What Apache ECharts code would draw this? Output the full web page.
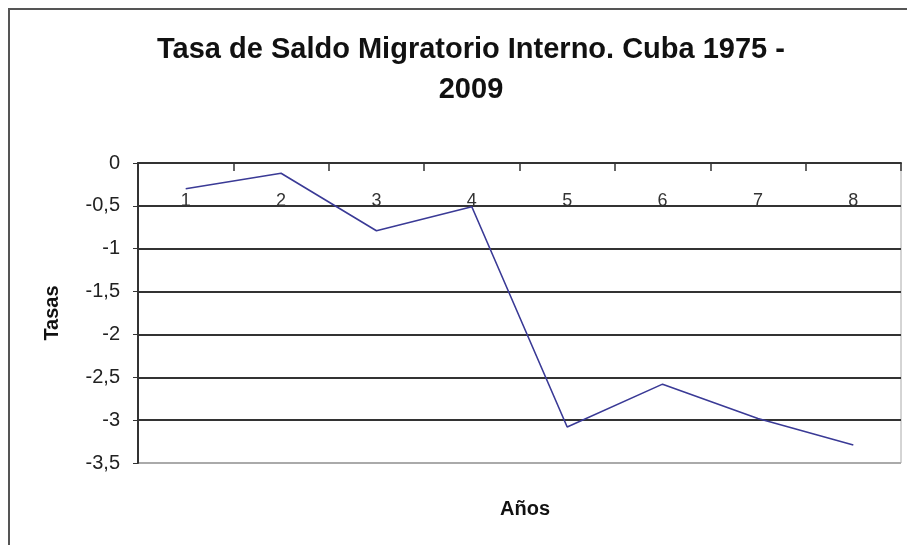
<!DOCTYPE html>
<html>
<head>
<meta charset="utf-8">
<script src="https://cdn.jsdelivr.net/npm/echarts@6/dist/echarts.min.js"></script>
<style>
html,body{margin:0;padding:0;background:#fff;}
#c{width:907px;height:545px;}
</style>
</head>
<body>
<div id="c"></div>
<script>
const categories = ['1','2','3','4','5','6','7','8'];
const tasas = [-0.30, -0.12, -0.79, -0.51, -3.08, -2.58, -2.98, -3.29];
const yTicks = [0, -0.5, -1, -1.5, -2, -2.5, -3, -3.5];

const chart = echarts.init(document.getElementById('c'));
const fnt = '"Liberation Sans", Arial, sans-serif';
chart.setOption({
  backgroundColor: '#fff',
  animation: false,
  title: [
    {
      text: 'Tasa de Saldo Migratorio Interno. Cuba 1975 -\n2009',
      left: 466, top: 25, textAlign: 'center',
      textStyle: {fontFamily: fnt, fontWeight: 'bold', fontSize: 29, color: '#111', lineHeight: 40}
    },
    {
      text: 'Años',
      left: 520, top: 494, textAlign: 'center',
      textStyle: {fontFamily: fnt, fontWeight: 'bold', fontSize: 20, color: '#111'}
    }
  ],
  graphic: [{
    type: 'rect', shape: {x: 9, y: 9, width: 1000, height: 700},
    style: {fill: 'none', stroke: '#555', lineWidth: 2}, silent: true
  }],
  grid: {left: 138, top: 163, right: 6, bottom: 82, show: true, borderColor: '#aaa', borderWidth: 1},
  xAxis: {
    type: 'category', data: categories, boundaryGap: true, position: 'top',
    axisLine: {onZero: false, lineStyle: {color: '#333', width: 2}},
    axisTick: {show: true, inside: true, length: 8, lineStyle: {color: '#333', width: 1.5}},
    axisLabel: {inside: true, margin: 29, fontFamily: fnt, fontSize: 18, color: '#333'},
    splitLine: {show: false}
  },
  yAxis: {
    type: 'value', min: -3.5, max: 0, interval: 0.5,
    name: 'Tasas', nameLocation: 'middle', nameGap: 76, nameRotate: 90,
    nameTextStyle: {fontFamily: fnt, fontWeight: 'bold', fontSize: 20, color: '#111'},
    axisLine: {show: true, lineStyle: {color: '#333', width: 2}},
    axisTick: {show: true, length: 5, lineStyle: {color: '#333'}},
    axisLabel: {margin: 18, fontFamily: fnt, fontSize: 20, color: '#222',
      formatter: v => String(v).replace('.', ',')},
    splitLine: {show: true, lineStyle: {color: ['#aaa','#333','#333','#333','#333','#333','#333','#333'], width: 2}}
  },
  series: [{
    type: 'line', data: tasas, symbol: 'none',
    lineStyle: {color: '#3a3a96', width: 1.6}
  }]
});
</script>
</body>
</html>
